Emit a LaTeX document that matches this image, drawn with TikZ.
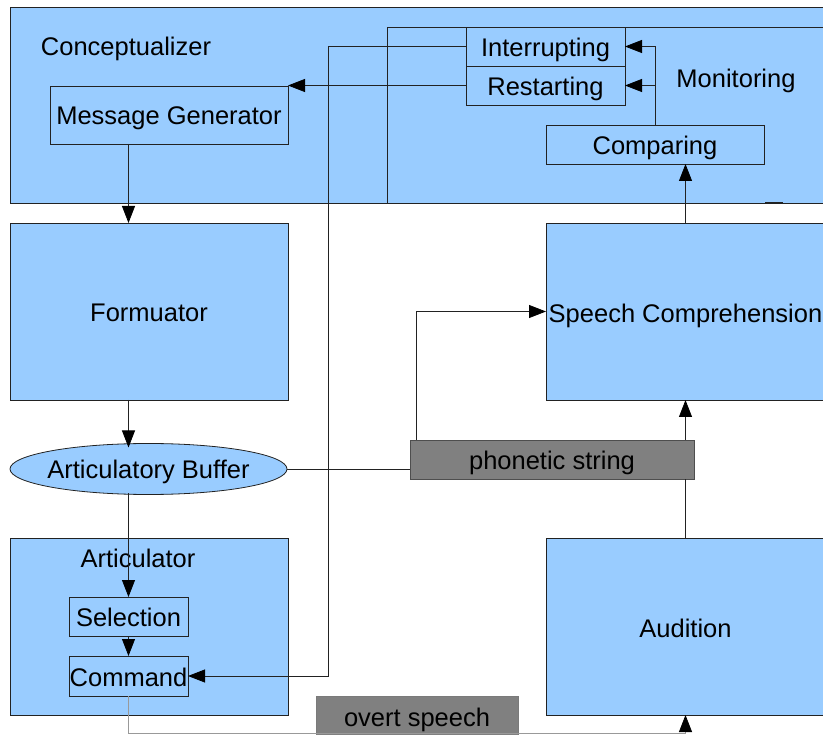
\documentclass[tikz,border=0pt]{standalone}
\usepackage{fontspec}
\setmainfont{Liberation Sans}
\usetikzlibrary{arrows.meta,shapes.geometric,calc}
\definecolor{fillblue}{HTML}{99CCFF}
\definecolor{boxgray}{HTML}{808080}
\definecolor{linec}{HTML}{222222}
\begin{document}
\begin{tikzpicture}[x=1pt,y=-1pt,
  every node/.style={font=\fontsize{25.5}{30}\selectfont, inner sep=0pt, outer sep=0pt, text height=20pt, text depth=0pt},
  bluebox/.style={draw=linec, fill=fillblue, rectangle, anchor=north west, line width=0.8pt},
  subbox/.style={draw=linec, fill=fillblue, rectangle, line width=0.8pt},
  graybox/.style={draw=linec!80, fill=boxgray, rectangle, line width=0.8pt},
  conn/.style={draw=linec, line width=0.8pt},
  arr/.style={conn, -{Triangle[length=17pt,width=13pt,color=black]}}]
\useasboundingbox (0,0) rectangle (823,735);
\clip (0,0) rectangle (823,735);
% big containers
\node[bluebox, minimum width=830pt, minimum height=196pt] (concept) at (10,7) {};
\node (conceptlabel) at (126,46) {Conceptualizer};
\node[bluebox, minimum width=450pt, minimum height=176pt] (monitor) at (387,27) {};
\node (monlabel) at (736,78) {Monitoring};
\draw[line width=2.2pt, linec] (765,203) -- (783,203);
\node[subbox, minimum width=159pt, minimum height=39pt] (interr) at (545.5,46.5) {Interrupting};
\node[subbox, minimum width=159pt, minimum height=39pt] (restart) at (545.5,85.5) {Restarting};
\node[subbox, minimum width=218pt, minimum height=39pt] (compare) at (655,144.5) {Comparing};
\node[subbox, minimum width=238pt, minimum height=58pt] (msggen) at (169,115) {Message Generator};
% formulator
\node[bluebox, minimum width=278pt, minimum height=177pt] (formulator) at (10,223) {};
\node (formlabel) at (149,312) {Formuator};
% buffer
\node[draw=linec, fill=fillblue, ellipse, minimum width=277pt, minimum height=51pt, line width=0.8pt] (buffer) at (148.5,469) {};
\node (bufferlabel) at (148.5,469) {Articulatory Buffer};
% articulator
\node[bluebox, minimum width=278pt, minimum height=177pt] (artic) at (10,538) {};
\node (articlabel) at (138,558) {Articulator};
\node[subbox, minimum width=119pt, minimum height=39pt] (selection) at (128.5,616.5) {Selection};
\node[subbox, minimum width=119pt, minimum height=40pt] (command) at (128.5,676) {Command};
% right column
\node[bluebox, minimum width=279pt, minimum height=177pt] (speech) at (546,223) {};
\node (speechlabel) at (685.5,313) {Speech Comprehension};
\node[bluebox, minimum width=279pt, minimum height=177pt] (audition) at (546,538) {};
\node (auditionlabel) at (685.5,627) {Audition};
\node[graybox, minimum width=284pt, minimum height=39pt] (phonetic) at (552,459.5) {phonetic string};
\node[graybox, draw=linec!60, minimum width=202pt, minimum height=44pt] (overt) at (417,718) {};
\node (overtlabel) at (417,716) {overt speech};
% helper coordinates
\coordinate (xa) at (328,0);
\coordinate (xb) at (416,0);
\coordinate (xc) at (685.5,0);
\coordinate (yb) at (0,733.5);
% connectors
\draw[arr] (restart.west) -- (restart.west -| msggen.east);
\draw[arr] (interr.west) -- (interr.west -| xa) -- (command.east -| xa) -- (command.east);
\draw[arr] (compare.north) |- (interr.east);
\draw[arr] (compare.north) |- (restart.east);
\draw[arr] (speech.north -| xc) -- (compare.south -| xc);
\draw[arr] (msggen.south -| selection) -- (formulator.north -| selection);
\draw[arr] (formulator.south -| selection) -- ($(selection |- buffer.north)+(0,4)$);
\draw[arr] ($(selection |- buffer.south)+(0,-1)$) -- (selection.north);
\draw[arr] (selection.south) -- (command.north);
\draw[conn] (buffer.east) -- (buffer.east -| phonetic.west);
\draw[arr] (phonetic.north -| xb) |- (speech.west);
\draw[conn] (audition.north -| xc) -- (phonetic.south -| xc);
\draw[arr] (phonetic.north -| xc) -- (speech.south -| xc);
\draw[conn, draw=black!40, -{Triangle[length=17pt,width=13pt,color=black]}] (command.south) -- (command.south |- yb) -- (yb -| xc) -- (audition.south -| xc);
\end{tikzpicture}
\end{document}
